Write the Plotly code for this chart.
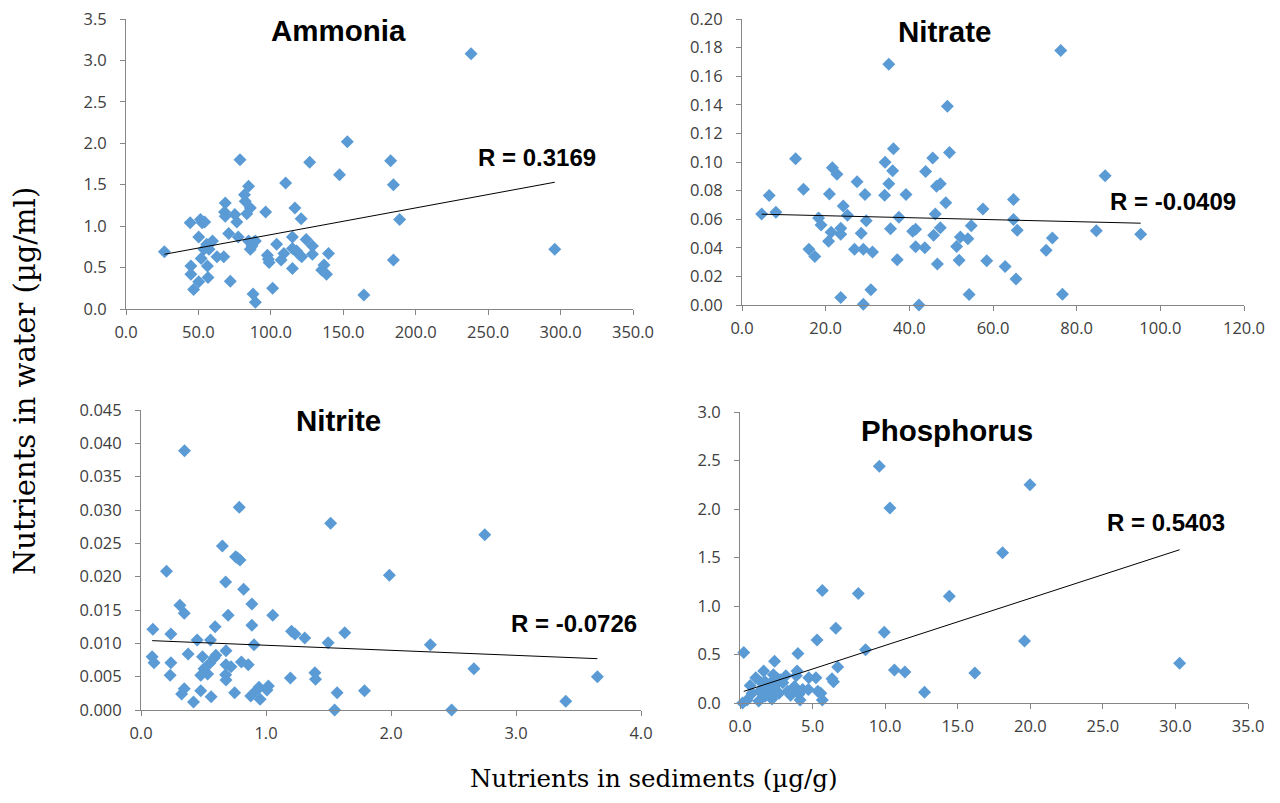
import plotly.graph_objects as go

W, H = 1280, 803

# ---------------- data ----------------
ammonia_x = [26.5, 44.3, 44.8, 44.8, 46.7, 50.2, 50.2, 51.4, 52.6, 54.3, 51.9, 53.8, 55.7, 57.3, 56.2,
             56.6, 59.7, 62.8, 67.5, 68.5, 68.0, 68.5, 70.9, 72.0, 75.1, 76.5, 77.5, 78.7, 81.8, 82.3,
             83.4, 84.6, 85.8, 84.6, 85.8, 87.0, 88.2, 89.3, 87.7, 89.3, 96.4, 97.6, 98.3, 98.8, 101.2,
             104.0, 107.1, 109.0, 110.2, 114.9, 114.9, 114.9, 116.6, 117.8, 119.4, 120.9, 121.3, 124.4,
             126.8, 128.7, 128.7, 135.1, 136.7, 138.4, 139.8, 147.4, 152.8, 164.2, 182.7, 184.6, 184.6,
             188.9, 238.2, 296.0]
ammonia_y = [0.69, 1.04, 0.52, 0.42, 0.235, 0.87, 0.33, 1.08, 1.04, 1.05, 0.61, 0.72, 0.78, 0.72, 0.52,
             0.38, 0.82, 0.63, 0.63, 1.28, 1.17, 1.12, 0.91, 0.335, 1.14, 1.05, 0.87, 1.80, 1.38, 1.30,
             1.15, 1.48, 1.22, 0.82, 0.72, 0.76, 0.81, 0.82, 0.18, 0.08, 1.17, 0.65, 0.60, 0.56, 0.25,
             0.78, 0.59, 0.67, 1.52, 0.87, 0.73, 0.49, 1.22, 0.70, 0.66, 1.09, 0.63, 0.84,
             1.77, 0.76, 0.66, 0.47, 0.53, 0.42, 0.67, 1.62, 2.02, 0.17, 1.79, 1.50, 0.59,
             1.08, 3.08, 0.72]
ammonia_trend_x = [26.5, 296.0]
ammonia_trend_y = [0.66, 1.53]

nitrate_x = [4.7, 6.5, 8.1, 12.8, 14.7, 16.0, 17.4, 18.3, 18.9, 20.7, 20.9, 21.3, 21.6, 22.7, 23.6,
             23.6, 23.6, 24.2, 25.2, 26.9, 27.5, 28.5, 29.0, 29.0, 29.4, 29.7, 30.8, 31.2, 34.2, 34.1,
             35.1, 35.1, 35.5, 36.0, 36.2, 37.1, 37.5, 39.2, 40.8, 41.5, 41.5, 42.3, 43.7, 43.9, 45.6,
             45.8, 46.2, 46.5, 46.7, 47.4, 47.4, 48.7, 49.1, 49.6, 51.3, 51.9, 52.2, 54.0, 54.3, 54.8,
             57.6, 58.5, 62.9, 64.9, 64.9, 65.5, 65.8, 72.7, 74.2, 76.2, 76.6, 84.7, 86.8, 95.3]
nitrate_y = [0.0637, 0.0766, 0.0648, 0.1023, 0.0809, 0.0389, 0.0340, 0.0609, 0.0559, 0.0446, 0.0777,
             0.0508, 0.0959, 0.0915, 0.0536, 0.0494, 0.0053, 0.0692, 0.0628, 0.0389, 0.0862, 0.0501,
             0.0389, 0.0005, 0.0772, 0.0589, 0.0106, 0.0370, 0.0998, 0.0768, 0.0848, 0.1683, 0.0533,
             0.0938, 0.1092, 0.0317, 0.0614, 0.0772, 0.0515, 0.0529, 0.0407, 0.0000, 0.0400, 0.0933,
             0.1028, 0.0487, 0.0637, 0.0830, 0.0287, 0.0848, 0.0540, 0.0715, 0.1389, 0.1067, 0.0409,
             0.0313, 0.0476, 0.0464, 0.0074, 0.0554, 0.0671, 0.0310, 0.0269, 0.0738, 0.0598, 0.0182,
             0.0522, 0.0382, 0.0469, 0.1779, 0.0076, 0.0520, 0.0903, 0.0494]
nitrate_trend_x = [4.7, 95.3]
nitrate_trend_y = [0.0635, 0.0572]

nitrite_x = [0.089, 0.095, 0.104, 0.204, 0.233, 0.239, 0.239, 0.311, 0.325, 0.346, 0.346, 0.348, 0.377,
             0.420, 0.449, 0.478, 0.478, 0.492, 0.504, 0.533, 0.556, 0.550, 0.561, 0.585, 0.599, 0.593,
             0.651, 0.677, 0.680, 0.677, 0.680, 0.680, 0.697, 0.720, 0.749, 0.757, 0.772, 0.792, 0.786,
             0.803, 0.821, 0.858, 0.878, 0.887, 0.887, 0.904, 0.921, 0.944, 0.953, 1.008, 1.019, 1.054,
             1.195, 1.204, 1.232, 1.310, 1.391, 1.396, 1.497, 1.517, 1.549, 1.569, 1.630, 1.788, 1.987,
             2.315, 2.485, 2.663, 2.750, 3.398, 3.651]
nitrite_y = [0.0080, 0.0121, 0.0071, 0.0208, 0.0052, 0.0114, 0.0071, 0.0157, 0.0024, 0.0032, 0.0145,
             0.0389, 0.0084, 0.0012, 0.0105, 0.0029, 0.0052, 0.0080, 0.0062, 0.0054, 0.0105, 0.0070,
             0.0020, 0.0078, 0.0082, 0.0125, 0.0246, 0.0192, 0.0089, 0.0053, 0.0045, 0.0068, 0.0142,
             0.0065, 0.0026, 0.0230, 0.0228, 0.0225, 0.0304, 0.0072, 0.0181, 0.0068, 0.0021, 0.0159,
             0.0127, 0.0098, 0.0029, 0.0034, 0.0016, 0.0030, 0.0036, 0.0142, 0.0048, 0.0118, 0.0114,
             0.0108, 0.0056, 0.0046, 0.0101, 0.0280, 0.0000, 0.0026, 0.0116, 0.0029, 0.0202, 0.0098,
             0.0000, 0.0062, 0.0263, 0.0013, 0.0050]
nitrite_trend_x = [0.089, 3.651]
nitrite_trend_y = [0.0104, 0.0077]

phos_x = [0.26, 0.18, 0.49, 0.70, 0.83, 1.09, 1.29, 1.35, 1.48, 1.63, 1.73, 1.73, 1.86, 1.99, 2.05, 2.12,
          2.20, 2.38, 2.38, 2.30, 2.51, 2.59, 2.69, 2.77, 2.95, 3.16, 3.29, 3.49, 3.62, 3.75, 3.88, 3.93,
          3.99, 4.06, 4.14, 4.32, 4.71, 4.74, 5.23, 5.31, 5.36, 5.57, 5.67, 5.67, 6.34, 6.44, 6.60, 6.73,
          8.15, 8.65, 9.60, 9.94, 10.33, 10.64, 11.36, 12.71, 14.42, 16.18, 18.09, 19.60, 19.98, 30.29]
phos_y = [0.52, 0.00, 0.03, 0.18, 0.10, 0.26, 0.02, 0.12, 0.21, 0.33, 0.07, 0.22, 0.16, 0.14, 0.07, 0.21,
          0.04, 0.43, 0.17, 0.29, 0.12, 0.25, 0.10, 0.24, 0.21, 0.28, 0.12, 0.08, 0.14, 0.17, 0.28, 0.33,
          0.51, 0.09, 0.03, 0.14, 0.14, 0.26, 0.26, 0.65, 0.12, 0.10, 0.03, 1.16, 0.25, 0.22, 0.77, 0.37,
          1.13, 0.55, 2.44, 0.73, 2.01, 0.34, 0.32, 0.11, 1.10, 0.31, 1.55, 0.64, 2.25, 0.41]
phos_trend_x = [0.26, 30.29]
phos_trend_y = [0.12, 1.58]

panel_titles = ["Ammonia", "Nitrate", "Nitrite", "Phosphorus"]
r_labels = ["R = 0.3169", "R = -0.0409", "R = -0.0726", "R = 0.5403"]
x_title = "Nutrients in sediments (µg/g)"
y_title = "Nutrients in water (µg/ml)"

# ---------------- layout helpers ----------------
# the page body adds an 8px offset to the plot div; compensate so that
# positions line up with the reference picture
OFF = 8

def px(x):
    return (x - OFF) / W

def py(y):
    return 1 - (y - OFF) / H

MARKER = "#5B9BD5"
AXIS_COL = "#868686"
TICK_FONT = dict(family="Open Sans, Liberation Sans, sans-serif", size=16.5, color="#404040")

panels = [
    (ammonia_x, ammonia_y, ammonia_trend_x, ammonia_trend_y, (126, 633), (309, 19),
     [0, 350], 50, [0, 3.5], 0.5, ".1f", ".1f"),
    (nitrate_x, nitrate_y, nitrate_trend_x, nitrate_trend_y, (742, 1244), (305, 19),
     [0, 120], 20, [0, 0.20], 0.02, ".1f", ".2f"),
    (nitrite_x, nitrite_y, nitrite_trend_x, nitrite_trend_y, (141, 641), (710, 410),
     [0, 4], 1, [0, 0.045], 0.005, ".1f", ".3f"),
    (phos_x, phos_y, phos_trend_x, phos_trend_y, (740, 1248), (703, 412),
     [0, 35], 5, [0, 3.0], 0.5, ".1f", ".1f"),
]

fig = go.Figure()
layout = {}
for i, (xs, ys, tx, ty, xspan, yspan, xr, xd, yr, yd, xf, yf) in enumerate(panels):
    n = "" if i == 0 else str(i + 1)
    xa, ya = "x" + n, "y" + n
    fig.add_trace(go.Scatter(
        x=xs, y=ys, mode="markers", xaxis=xa, yaxis=ya,
        marker=dict(symbol="diamond", size=10, color=MARKER, line=dict(width=0)),
        showlegend=False, cliponaxis=False))
    fig.add_trace(go.Scatter(
        x=tx, y=ty, mode="lines", xaxis=xa, yaxis=ya,
        line=dict(color="#000000", width=1), showlegend=False))
    common = dict(showgrid=False, zeroline=False, showline=True, linecolor=AXIS_COL,
                  linewidth=1, ticks="outside", ticklen=5, tickcolor=AXIS_COL,
                  tickfont=TICK_FONT, fixedrange=True, automargin=False, tick0=0,
                  ticklabeloverflow="allow")
    layout["xaxis" + n] = dict(
        domain=[px(xspan[0]), px(xspan[1])], anchor=ya, range=xr, dtick=xd,
        tickformat=xf, ticklabelstandoff=3, **common)
    layout["yaxis" + n] = dict(
        domain=[py(yspan[0]), py(yspan[1])], anchor=xa, range=yr, dtick=yd,
        tickformat=yf, ticklabelstandoff=10, **common)

title_pos = [(338, 30), (944, 31), (338, 420), (947, 430)]
r_pos = [(537, 158), (1173, 202), (574, 623), (1166, 522)]
annotations = []
for t, (x, y) in zip(panel_titles, title_pos):
    annotations.append(dict(text="<b>" + t + "</b>", x=px(x), y=py(y), xref="paper", yref="paper",
                            showarrow=False, xanchor="center", yanchor="middle",
                            font=dict(family="Liberation Sans, Arial, sans-serif", size=29.5, color="#000")))
for t, (x, y) in zip(r_labels, r_pos):
    annotations.append(dict(text="<b>" + t + "</b>", x=px(x), y=py(y), xref="paper", yref="paper",
                            showarrow=False, xanchor="center", yanchor="middle",
                            font=dict(family="Liberation Sans, Arial, sans-serif", size=24, color="#000")))
annotations.append(dict(text=x_title, x=px(653), y=py(778), xref="paper", yref="paper",
                        showarrow=False, xanchor="center", yanchor="middle",
                        font=dict(family="DejaVu Serif, serif", size=24.5, color="#000")))
annotations.append(dict(text=y_title, x=px(25), y=py(381), xref="paper", yref="paper",
                        showarrow=False, xanchor="center", yanchor="middle", textangle=-90,
                        font=dict(family="DejaVu Serif, serif", size=29, color="#000")))

fig.update_layout(
    width=W, height=H, margin=dict(l=0, r=0, t=0, b=0),
    paper_bgcolor="white", plot_bgcolor="white",
    annotations=annotations, **layout)

fig.write_html("out.html", config={"displayModeBar": False})
